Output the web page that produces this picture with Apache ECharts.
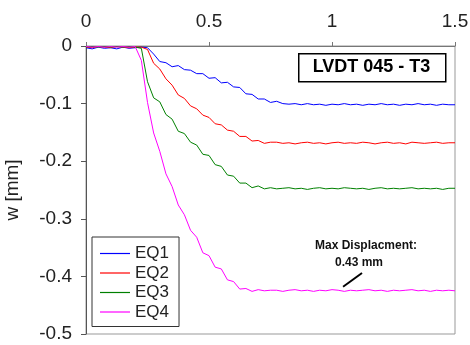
<!DOCTYPE html>
<html>
<head>
<meta charset="utf-8">
<script src="https://cdn.jsdelivr.net/npm/echarts@6/dist/echarts.min.js"></script>
<style>
html,body{margin:0;padding:0;background:#fff;}
#c{width:470px;height:345px;}
</style>
</head>
<body>
<div id="c"></div>
<script>
var xs = [0,0.025,0.05,0.075,0.1,0.125,0.15,0.175,0.2,0.225,0.25,0.275,0.3,0.325,0.35,0.375,0.4,0.425,0.45,0.475,0.5,0.525,0.55,0.575,0.6,0.625,0.65,0.675,0.7,0.725,0.75,0.775,0.8,0.825,0.85,0.875,0.9,0.925,0.95,0.975,1,1.025,1.05,1.075,1.1,1.125,1.15,1.175,1.2,1.225,1.25,1.275,1.3,1.325,1.35,1.375,1.4,1.425,1.45,1.475,1.5];

var eq1 = [-0.003,-0.005,-0.002,-0.004,-0.003,-0.005,-0.002,-0.004,-0.003,-0.002,-0.003,
  -0.014,-0.027,-0.029,-0.036,-0.034,-0.041,-0.042,-0.048,-0.048,-0.056,-0.055,-0.064,-0.063,-0.071,-0.072,-0.083,-0.084,-0.092,-0.092,-0.098,-0.096,-0.100,
  -0.101,-0.100,-0.102,-0.100,-0.102,-0.101,-0.103,-0.101,-0.102,-0.100,-0.102,-0.101,-0.103,-0.101,-0.102,-0.100,-0.102,-0.101,-0.103,-0.101,-0.102,-0.100,-0.102,-0.101,-0.103,-0.101,-0.102,-0.102];

var eq2 = [-0.002,-0.003,-0.001,-0.002,-0.003,-0.001,-0.002,-0.003,-0.002,-0.002,
  -0.006,-0.030,-0.040,-0.057,-0.068,-0.085,-0.091,-0.104,-0.109,-0.120,-0.124,-0.135,-0.137,-0.146,-0.148,-0.157,-0.157,-0.165,-0.164,-0.169,-0.167,
  -0.167,-0.169,-0.168,-0.170,-0.168,-0.167,-0.169,-0.168,-0.170,-0.168,-0.167,-0.169,-0.168,-0.169,-0.167,-0.168,-0.170,-0.168,-0.167,-0.169,-0.168,-0.170,-0.167,-0.168,-0.169,-0.168,-0.167,-0.169,-0.168,-0.168];

var eq3 = [-0.002,-0.001,-0.002,-0.001,-0.002,-0.001,-0.002,-0.001,-0.002,
  -0.004,-0.062,-0.090,-0.097,-0.119,-0.127,-0.148,-0.152,-0.167,-0.172,-0.188,-0.190,-0.206,-0.209,-0.224,-0.226,-0.238,-0.238,-0.246,-0.243,-0.248,-0.246,
  -0.248,-0.247,-0.246,-0.248,-0.247,-0.249,-0.247,-0.246,-0.248,-0.247,-0.248,-0.246,-0.247,-0.248,-0.247,-0.249,-0.247,-0.246,-0.248,-0.247,-0.248,-0.247,-0.246,-0.248,-0.247,-0.248,-0.247,-0.249,-0.247,-0.247];

var eq4 = [-0.001,-0.002,-0.001,-0.002,-0.001,-0.002,-0.001,-0.002,-0.001,
  -0.025,-0.098,-0.151,-0.183,-0.222,-0.244,-0.276,-0.293,-0.320,-0.332,-0.359,-0.364,-0.384,-0.387,-0.406,-0.409,-0.422,-0.421,-0.426,-0.423,-0.425,-0.424,
  -0.424,-0.426,-0.424,-0.423,-0.425,-0.424,-0.426,-0.424,-0.425,-0.423,-0.424,-0.426,-0.424,-0.425,-0.424,-0.423,-0.425,-0.424,-0.426,-0.424,-0.425,-0.424,-0.423,-0.425,-0.424,-0.426,-0.424,-0.425,-0.424,-0.425];

var seriesNames = ['EQ1','EQ2','EQ3','EQ4'];
var seriesColors = ['#0000ff','#ff0000','#008000','#ff00ff'];
var seriesValues = [eq1, eq2, eq3, eq4];

var annotLine = [[1.045,-0.418],[1.122,-0.394]];
var titleText = 'LVDT 045 - T3';
var annotText1 = 'Max Displacment:';
var annotText2 = '0.43 mm';

var FONT = '"Liberation Sans", Arial, sans-serif';
var chart = echarts.init(document.getElementById('c'), null, {renderer:'canvas'});

var series = seriesNames.map(function(n, k){
  var s = {
    name: n,
    type: 'line',
    symbol: 'none',
    showSymbol: false,
    lineStyle: {width: 1, color: seriesColors[k]},
    itemStyle: {color: seriesColors[k]},
    data: xs.map(function(x, i){ return [x, seriesValues[k][i]]; }),
    z: 2 + k
  };
  if (k === 3) {
    s.markLine = {
      silent: true,
      symbol: ['none','none'],
      label: {show: false},
      lineStyle: {color: '#000', width: 2, type: 'solid'},
      data: [[{coord: annotLine[0]}, {coord: annotLine[1]}]]
    };
  }
  return s;
});

chart.setOption({
  animation: false,
  backgroundColor: '#fff',
  textStyle: {fontFamily: FONT},
  grid: {left: 86, top: 46, width: 369, height: 288, containLabel: false, outerBoundsMode: 'none',
         show: true, borderColor: '#999', borderWidth: 1, backgroundColor: 'transparent'},
  xAxis: {
    type: 'value', position: 'top', min: 0, max: 1.5, interval: 0.5,
    axisLine: {show: true, lineStyle: {color: '#777', width: 1}},
    axisTick: {show: true, inside: false, length: 4, lineStyle: {color: '#777'}},
    splitLine: {show: false},
    axisLabel: {fontSize: 19, color: '#222', margin: 15, fontFamily: FONT}
  },
  yAxis: {
    type: 'value', min: -0.5, max: 0, interval: 0.1,
    name: 'w [mm]', nameLocation: 'middle', nameGap: 64, nameRotate: 90,
    nameTextStyle: {fontSize: 19, color: '#222', fontFamily: FONT},
    axisLine: {show: true, lineStyle: {color: '#555', width: 1}},
    axisTick: {show: true, inside: false, length: 5, lineStyle: {color: '#555'}},
    splitLine: {show: false},
    axisLabel: {fontSize: 19, color: '#222', margin: 14, fontFamily: FONT,
      formatter: function(v){ return Math.abs(v) < 1e-9 ? '0' : v.toFixed(1); }}
  },
  legend: {
    orient: 'vertical', left: 92, top: 237,
    padding: [8, 10, 6, 8],
    icon: 'rect',
    itemWidth: 30, itemHeight: 1.2, itemGap: 2.5,
    borderColor: '#333', borderWidth: 1, backgroundColor: '#fff',
    textStyle: {fontSize: 17, color: '#222', fontFamily: FONT, lineHeight: 17},
    data: seriesNames
  },
  graphic: [
    {type: 'rect', left: 298, top: 53, shape: {width: 147, height: 28},
     style: {fill: '#fff', stroke: '#000', lineWidth: 1.5}, z: 100},
    {type: 'text', x: 371.5, y: 67.5, z: 101,
     style: {text: titleText, font: 'bold 18px ' + FONT, fill: '#000', align: 'center', verticalAlign: 'middle'}},
    {type: 'text', x: 366, y: 246, z: 101,
     style: {text: annotText1, font: 'bold 12px ' + FONT, fill: '#111', align: 'center', verticalAlign: 'middle'}},
    {type: 'text', x: 359, y: 263, z: 101,
     style: {text: annotText2, font: 'bold 12px ' + FONT, fill: '#111', align: 'center', verticalAlign: 'middle'}}
  ],
  series: series
});
</script>
</body>
</html>
